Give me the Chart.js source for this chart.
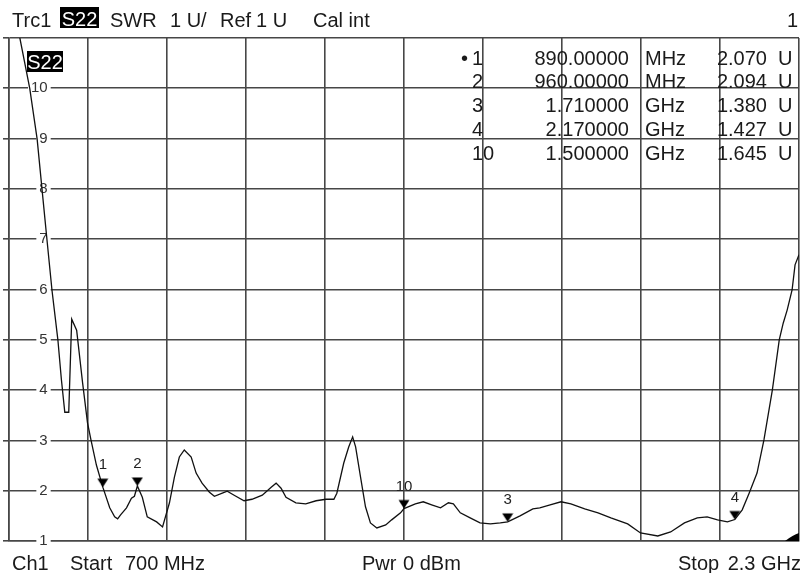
<!DOCTYPE html>
<html>
<head>
<meta charset="utf-8">
<script src="https://cdn.jsdelivr.net/npm/chart.js@4.4.1/dist/chart.umd.min.js"></script>
<style>
  body { margin: 0; background: #fff; }
  #wrap { position: relative; width: 806px; height: 573px; font-family: "Liberation Sans", Arial, sans-serif; color: #1a1a1a; }
  #wrap canvas { position: absolute; left: 0; top: 0; }
  .t { position: absolute; font-size: 20px; line-height: 20px; white-space: pre; }
  .inv { position: absolute; background: #000; color: #fff; font-size: 20px; line-height: 20px; text-align: center; box-sizing: border-box; }
  .r { text-align: right; }
</style>
</head>
<body>
<div id="wrap">
  <canvas id="swrChart" width="806" height="573"></canvas>
  <div id="overlay"></div>
</div>
<script>
// trace S22 as SWR, frequency in MHz
const freqMHz = [
  700, 722, 742, 757, 767, 777, 787, 799, 806, 813,
  821, 827, 837, 849, 859, 866, 877, 890, 904, 914,
  920, 926, 938, 948, 954, 960, 970, 980, 999, 1011,
  1025, 1035, 1045, 1055, 1069, 1079, 1091, 1106, 1116, 1132,
  1142, 1156, 1176, 1192, 1213, 1231, 1241, 1251, 1261, 1281,
  1301, 1322, 1342, 1358, 1364, 1378, 1388, 1396, 1402, 1412,
  1422, 1432, 1445, 1463, 1475, 1493, 1500, 1523, 1539, 1556,
  1574, 1590, 1600, 1614, 1634, 1654, 1675, 1695, 1710, 1735,
  1761, 1775, 1796, 1818, 1838, 1866, 1893, 1919, 1953, 1979,
  2014, 2040, 2068, 2094, 2114, 2135, 2155, 2170, 2185, 2199,
  2215, 2229, 2246, 2260, 2268, 2276, 2286, 2292, 2300
];
const swr = [
  12.1, 11.0, 10.0, 8.99, 7.98, 6.98, 5.99, 5.0, 4.22, 3.56,
  3.56, 5.41, 5.19, 4.15, 3.35, 3.01, 2.51, 2.07, 1.66, 1.48,
  1.44, 1.52, 1.66, 1.85, 1.89, 2.094, 1.87, 1.48, 1.38, 1.28,
  1.76, 2.27, 2.67, 2.81, 2.67, 2.35, 2.15, 1.97, 1.89, 1.95,
  1.99, 1.91, 1.80, 1.83, 1.91, 2.07, 2.15, 2.05, 1.87, 1.76,
  1.74, 1.80, 1.83, 1.83, 1.95, 2.55, 2.87, 3.07, 2.87, 2.27,
  1.68, 1.36, 1.26, 1.32, 1.42, 1.56, 1.645, 1.74, 1.78, 1.72,
  1.66, 1.76, 1.74, 1.56, 1.46, 1.36, 1.34, 1.36, 1.38, 1.50,
  1.64, 1.66, 1.72, 1.78, 1.74, 1.64, 1.56, 1.46, 1.34, 1.16,
  1.10, 1.18, 1.36, 1.46, 1.48, 1.42, 1.38, 1.427, 1.62, 1.95,
  2.35, 3.01, 4.0, 5.0, 5.33, 5.59, 5.99, 6.49, 6.69
];

// markers, in the order of the marker table
const markerNames = ['1', '2', '3', '4', '10'];
const markerFreq = [890, 960, 1710, 2170, 1500];
const markerSwr = [2.070, 2.094, 1.380, 1.427, 1.645];

// grid
const xGrid = [700, 860, 1020, 1180, 1340, 1500, 1660, 1820, 1980, 2140, 2300];
const yMin = 1, yMax = 11;

const gridColor = '#474747';
const font = '"Liberation Sans", Arial, sans-serif';

// down triangle whose tip sits at the image centre
function markerIcon() {
    const c = document.createElement('canvas');
    c.width = 12; c.height = 20;
    const g = c.getContext('2d');
    g.fillStyle = '#000';
    g.beginPath();
    g.moveTo(0.5, 1.5); g.lineTo(11.5, 1.5); g.lineTo(6, 10);
    g.closePath(); g.fill();
    return c;
}

// numbers above the markers + the little corner wedge
const markerText = {
    id: 'markerText',
    afterDatasetsDraw(chart) {
        const ctx = chart.ctx;
        const meta = chart.getDatasetMeta(1);
        ctx.save();
        ctx.font = '15px ' + font;
        ctx.fillStyle = '#222';
        ctx.textAlign = 'center';
        ctx.textBaseline = 'middle';
        meta.data.forEach((pt, i) => ctx.fillText(markerNames[i], pt.x, pt.y - 22));
        const a = chart.chartArea;
        ctx.fillStyle = '#000';
        ctx.beginPath();
        ctx.moveTo(a.right - 14, a.bottom);
        ctx.quadraticCurveTo(a.right - 6, a.bottom - 6, a.right, a.bottom - 8);
        ctx.lineTo(a.right, a.bottom);
        ctx.closePath();
        ctx.fill();
        ctx.restore();
    }
};

function createChart() {
    const ctx = document.getElementById('swrChart').getContext('2d');
    new Chart(ctx, {
        type: 'line',
        data: {
            datasets: [
                {
                    label: 'S22',
                    data: freqMHz.map((f, i) => ({ x: f, y: swr[i] })),
                    borderColor: '#111',
                    borderWidth: 1.3,
                    pointRadius: 0,
                    tension: 0,
                    order: 1
                },
                {
                    label: 'Markers',
                    data: markerFreq.map((f, i) => ({ x: f, y: markerSwr[i] })),
                    showLine: false,
                    pointStyle: markerIcon(),
                    pointRadius: 6,
                    order: 0
                }
            ]
        },
        options: {
            responsive: false,
            animation: false,
            layout: { padding: { left: 3, right: 4, top: 38, bottom: 32 } },
            plugins: {
                legend: { display: false },
                tooltip: { enabled: false }
            },
            scales: {
                x: {
                    type: 'linear',
                    min: 700,
                    max: 2300,
                    afterBuildTicks: s => { s.ticks = xGrid.map(v => ({ value: v })); },
                    ticks: { display: false },
                    grid: { color: gridColor, lineWidth: 1.6, drawTicks: false },
                    border: { color: gridColor, width: 1.6 }
                },
                y: {
                    min: yMin,
                    max: yMax,
                    afterFit: s => { s.width = 6; },
                    ticks: {
                        stepSize: 1,
                        mirror: true,
                        crossAlign: 'far',
                        padding: 22,
                        color: '#333',
                        font: { size: 15, family: font },
                        callback: v => (v === yMax ? '' : v),
                        showLabelBackdrop: true,
                        backdropColor: c => (c.tick && c.tick.value === yMax ? 'rgba(0,0,0,0)' : '#fff'),
                        backdropPadding: { top: 0, bottom: 0, left: 3, right: 3 }
                    },
                    grid: { color: gridColor, lineWidth: 1.6, drawTicks: true, tickLength: 6 },
                    border: { color: gridColor, width: 1.6 }
                }
            }
        },
        plugins: [markerText]
    });
}

// header, footer and the marker table as plain text
function addText(txt, left, top, cls) {
    const d = document.createElement('div');
    d.className = 't' + (cls ? ' ' + cls : '');
    d.textContent = txt;
    d.style.top = top + 'px';
    if (cls === 'r') { d.style.right = (806 - left) + 'px'; } else { d.style.left = left + 'px'; }
    document.getElementById('overlay').appendChild(d);
}
function addInv(txt, left, top, w, h, pad) {
    const d = document.createElement('div');
    d.className = 'inv';
    d.textContent = txt;
    d.style.left = left + 'px'; d.style.top = top + 'px';
    d.style.width = w + 'px'; d.style.height = h + 'px';
    d.style.paddingTop = pad + 'px';
    document.getElementById('overlay').appendChild(d);
}

function buildText() {
    addText('Trc1', 12, 10);
    addInv('S22', 60, 7, 39, 21, 2);
    addText('SWR', 110, 10);
    addText('1 U/', 170, 10);
    addText('Ref', 220, 10);
    addText('1 U', 256, 10);
    addText('Cal int', 313, 10);
    addText('1', 798, 10, 'r');

    addInv('S22', 27, 51, 36, 21, 1);

    const rowTop = [48, 71, 95, 119, 143];
    markerNames.forEach((name, i) => {
        const f = markerFreq[i];
        const fTxt = f < 1000 ? f.toFixed(5) : (f / 1000).toFixed(6);
        const unit = f < 1000 ? 'MHz' : 'GHz';
        if (i === 0) addText('\u2022', 461, rowTop[i]);
        addText(name, 472, rowTop[i]);
        addText(fTxt, 629, rowTop[i], 'r');
        addText(unit, 645, rowTop[i]);
        addText(markerSwr[i].toFixed(3), 767, rowTop[i], 'r');
        addText('U', 778, rowTop[i]);
    });

    addText('Ch1', 12, 553);
    addText('Start', 70, 553);
    addText('700 MHz', 125, 553);
    addText('Pwr', 362, 553);
    addText('0 dBm', 403, 553);
    addText('Stop', 678, 553);
    addText('2.3 GHz', 801, 553, 'r');
}

createChart();
buildText();
</script>
</body>
</html>
